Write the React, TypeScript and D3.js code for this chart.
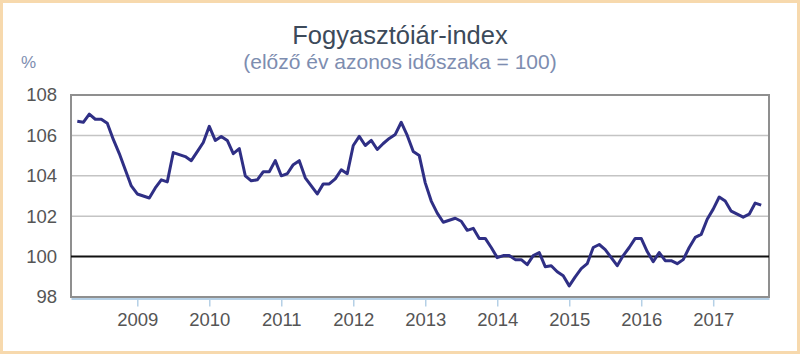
import { useRef, useEffect } from "react";
import * as d3 from "d3";

// monthly CPI, previous year same period = 100; series starts March 2008
const values2008 = [106.7, 106.65, 107.05, 106.8, 106.8, 106.6, 105.8, 105.1, 104.3, 103.5];
const values2009 = [103.1, 103.0, 102.9, 103.4, 103.8, 103.7, 105.15, 105.05, 104.95, 104.75, 105.2, 105.65];
const values2010 = [106.45, 105.75, 105.95, 105.75, 105.1, 105.35, 104.0, 103.75, 103.8, 104.2, 104.2, 104.75];
const values2011 = [104.0, 104.1, 104.55, 104.75, 103.9, 103.5, 103.1, 103.6, 103.6, 103.85, 104.3, 104.1];
const values2012 = [105.5, 105.95, 105.5, 105.75, 105.3, 105.6, 105.85, 106.05, 106.65, 106.0, 105.2, 105.0];
const values2013 = [103.65, 102.75, 102.15, 101.7, 101.8, 101.9, 101.75, 101.3, 101.4, 100.9, 100.9, 100.45];
const values2014 = [99.95, 100.05, 100.05, 99.85, 99.85, 99.6, 100.05, 100.2, 99.5, 99.55, 99.25, 99.05];
const values2015 = [98.55, 99.0, 99.4, 99.65, 100.45, 100.6, 100.35, 99.95, 99.55, 100.05, 100.45, 100.9];
const values2016 = [100.9, 100.25, 99.75, 100.2, 99.8, 99.8, 99.65, 99.85, 100.45, 100.95, 101.1, 101.85];
const values2017 = [102.35, 102.95, 102.75, 102.25, 102.1, 101.95, 102.1, 102.65, 102.55];

const yearTicks = [2009, 2010, 2011, 2012, 2013, 2014, 2015, 2016, 2017];
const yTicks = [98, 100, 102, 104, 106, 108];

const FONT = "'Liberation Sans', Arial, sans-serif";

export default function App() {
  const svgRef = useRef<SVGSVGElement>(null);

  useEffect(() => {
    if (!svgRef.current) return;
    const svg = d3.select(svgRef.current);
    svg.selectAll("*").remove();

    const width = 800;
    const height = 354;
    const left = 71, right = 769, top = 95, bottom = 297;

    // month index: 0 = Jan 2008
    const series = [values2008, values2009, values2010, values2011, values2012,
      values2013, values2014, values2015, values2016, values2017];
    const data: { m: number; v: number }[] = [];
    series.forEach((arr, k) => {
      const offset = k === 0 ? 2 : 0;
      arr.forEach((v, j) => data.push({ m: k * 12 + j + offset, v }));
    });

    const x = d3.scaleLinear().domain([0.95, 117.3]).range([left, right]);
    const y = d3.scaleLinear().domain([98, 108]).range([bottom, top]);

    // frame
    svg.append("rect")
      .attr("x", 1.5).attr("y", 1.5)
      .attr("width", width - 3).attr("height", height - 3)
      .attr("fill", "#fff")
      .attr("stroke", "#f7d9ad")
      .attr("stroke-width", 3);

    // titles
    svg.append("text")
      .attr("x", 400).attr("y", 44)
      .attr("text-anchor", "middle")
      .attr("font-family", FONT)
      .attr("font-size", 25.5)
      .attr("fill", "#3c4a5a")
      .text("Fogyasztóiár-index");

    svg.append("text")
      .attr("x", 400).attr("y", 69)
      .attr("text-anchor", "middle")
      .attr("font-family", FONT)
      .attr("font-size", 21)
      .attr("fill", "#7d8db0")
      .text("(előző év azonos időszaka = 100)");

    svg.append("text")
      .attr("x", 21).attr("y", 68)
      .attr("font-family", FONT)
      .attr("font-size", 17)
      .attr("fill", "#7d8db0")
      .text("%");

    // gridlines
    svg.append("g")
      .selectAll("line")
      .data(yTicks.filter((t) => t !== 98 && t !== 108 && t !== 100))
      .enter()
      .append("line")
      .attr("x1", left).attr("x2", right)
      .attr("y1", (d) => y(d)).attr("y2", (d) => y(d))
      .attr("stroke", "#c4c4c4")
      .attr("stroke-width", 1.5);

    // x axis (year ticks)
    const xAxis = d3.axisBottom(x)
      .tickValues(yearTicks.map((yr) => (yr - 2008) * 12))
      .tickFormat((d) => String(2008 + Math.round(+d / 12)))
      .tickSizeInner(8)
      .tickSizeOuter(0)
      .tickPadding(6);
    const gx = svg.append("g")
      .attr("transform", `translate(0,${bottom + 1.5})`)
      .call(xAxis);
    gx.select(".domain").attr("stroke", "#b5d0e6").attr("stroke-width", 2);
    gx.selectAll(".tick line").attr("stroke", "#b5d0e6").attr("stroke-width", 1.5);
    gx.selectAll(".tick text")
      .attr("font-family", FONT)
      .attr("font-size", 18.5)
      .attr("fill", "#555");

    // y axis labels
    const yAxis = d3.axisLeft(y).tickValues(yTicks).tickSize(0).tickPadding(14);
    const gy = svg.append("g").attr("transform", `translate(${left},0)`).call(yAxis);
    gy.select(".domain").remove();
    gy.selectAll(".tick text")
      .attr("font-family", FONT)
      .attr("font-size", 18.5)
      .attr("fill", "#555");

    // plot border
    svg.append("rect")
      .attr("x", left).attr("y", top)
      .attr("width", right - left).attr("height", bottom - top)
      .attr("fill", "none")
      .attr("stroke", "#8f8f8f")
      .attr("stroke-width", 2);

    // reference line at 100
    svg.append("line")
      .attr("x1", left).attr("x2", right)
      .attr("y1", y(100)).attr("y2", y(100))
      .attr("stroke", "#111")
      .attr("stroke-width", 2);

    const line = d3.line<{ m: number; v: number }>()
      .x((d) => x(d.m))
      .y((d) => y(d.v));

    svg.append("path")
      .datum(data)
      .attr("fill", "none")
      .attr("stroke", "#2f2f85")
      .attr("stroke-width", 3)
      .attr("stroke-linejoin", "round")
      .attr("d", line);
  }, []);

  return (
    <svg
      ref={svgRef}
      width={800}
      height={354}
      style={{ position: "absolute", left: 0, top: 0, display: "block" }}
    />
  );
}
